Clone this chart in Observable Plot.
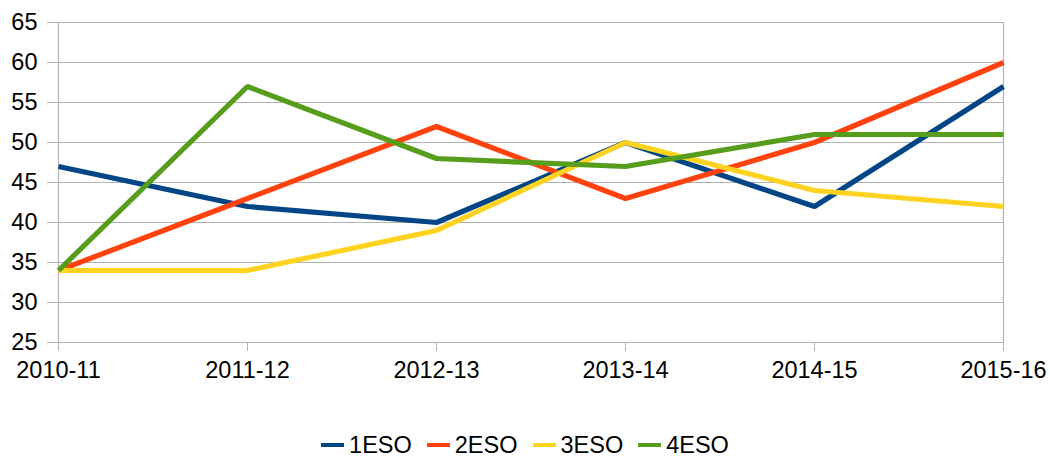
<!DOCTYPE html>
<html>
<head>
<meta charset="utf-8">
<script src="https://cdn.jsdelivr.net/npm/d3@7"></script>
<script src="https://cdn.jsdelivr.net/npm/@observablehq/plot@0.6"></script>
<style>
  body { margin: 0; background: #fff; font-family: "Liberation Sans", Arial, sans-serif; }
  #chart svg { display: block; }
  #legend { display: flex; justify-content: center; align-items: center; gap: 15px; font-size: 23.5px; color: #000; height: 40px; margin-top: 25px; }
  .item { display: flex; align-items: center; gap: 5px; }
  .sw { width: 23px; height: 4px; display: inline-block; }
</style>
</head>
<body>
<div id="chart"></div>
<div id="legend"></div>
<script>
const years = ["2010-11", "2011-12", "2012-13", "2013-14", "2014-15", "2015-16"];
const series = ["1ESO", "2ESO", "3ESO", "4ESO"];
const colors = ["#004586", "#ff420e", "#ffd320", "#579d1c"];
const v1ESO = [47, 42, 40, 50, 42, 57];
const v2ESO = [34, 43, 52, 43, 50, 60];
const v3ESO = [34, 34, 39, 50, 44, 42];
const v4ESO = [34, 57, 48, 47, 51, 51];
const yTicks = [25, 30, 35, 40, 45, 50, 55, 60, 65];

const valuesBySeries = [v1ESO, v2ESO, v3ESO, v4ESO];
const data = [];
series.forEach((s, i) => years.forEach((y, j) => data.push({series: s, year: y, value: valuesBySeries[i][j]})));

const chart = Plot.plot({
  width: 1050,
  height: 400,
  marginLeft: 57,
  marginRight: 47,
  marginTop: 22,
  marginBottom: 58,
  style: {fontFamily: "'Liberation Sans', Arial, sans-serif", fontSize: "23.5px", color: "#000", background: "#fff"},
  x: {type: "point", domain: years, padding: 0, label: null},
  y: {domain: [25, 65], label: null},
  color: {domain: series, range: colors},
  marks: [
    Plot.ruleY(yTicks, {stroke: "#b3b3b3", strokeWidth: 1.2, strokeOpacity: 1}),
    Plot.ruleX([years[0], years[years.length - 1]], {stroke: "#b3b3b3", strokeWidth: 1.2}),
    Plot.axisY({ticks: yTicks, tickSize: 10, tickPadding: 10, stroke: "#b3b3b3", fontSize: 23.5, label: null}),
    Plot.axisX({tickSize: 9, tickPadding: 10, stroke: "#b3b3b3", fontSize: 23.5, label: null}),
    Plot.line(data, {x: "year", y: "value", z: "series", stroke: "series", strokeWidth: 5.2, strokeLinejoin: "miter", strokeLinecap: "butt"})
  ]
});
document.getElementById("chart").appendChild(chart);

const legend = document.getElementById("legend");
series.forEach((s, i) => {
  const it = document.createElement("div");
  it.className = "item";
  const sw = document.createElement("span");
  sw.className = "sw";
  sw.style.background = colors[i];
  const t = document.createElement("span");
  t.textContent = s;
  it.appendChild(sw);
  it.appendChild(t);
  legend.appendChild(it);
});
</script>
</body>
</html>
